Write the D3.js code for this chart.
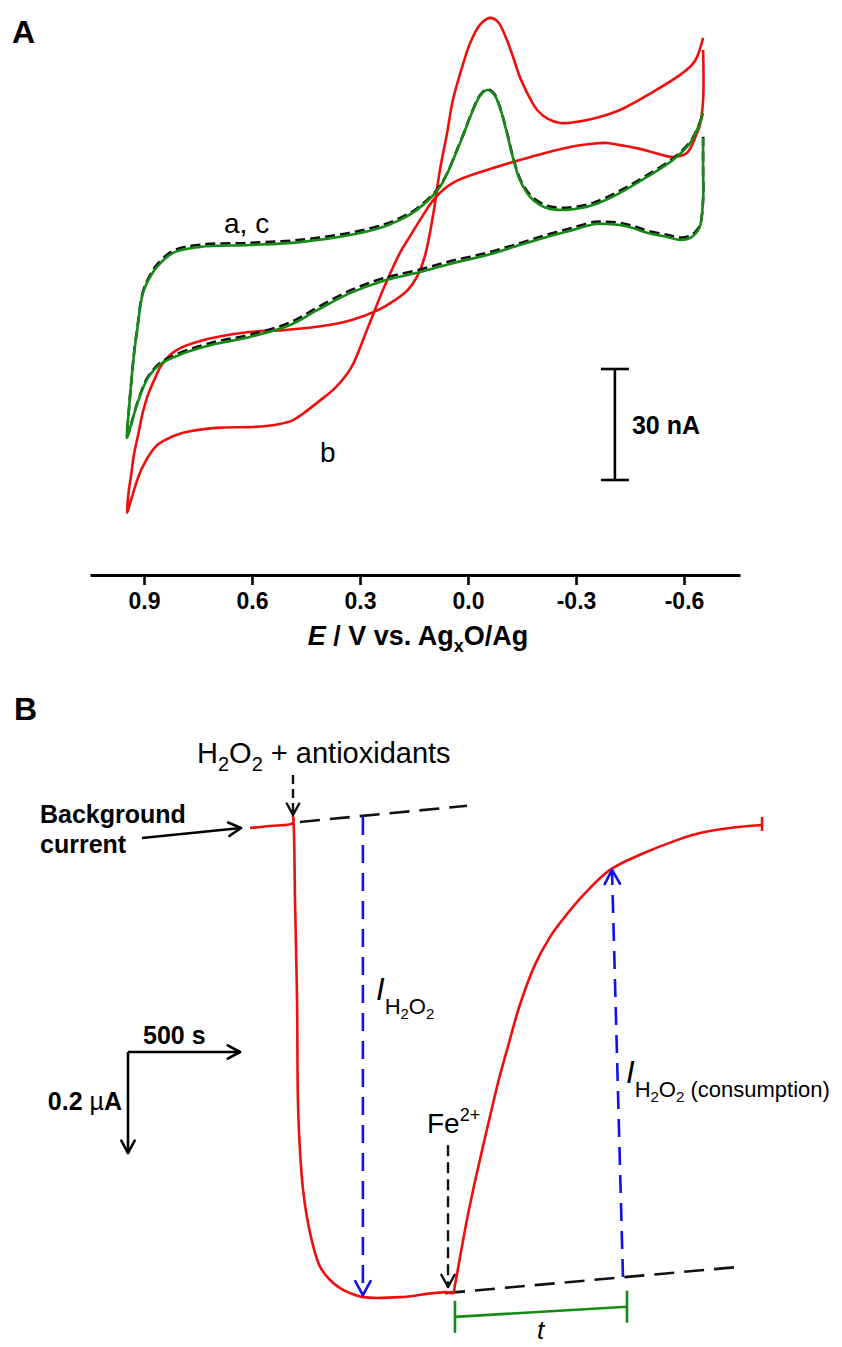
<!DOCTYPE html>
<html>
<head>
<meta charset="utf-8">
<script src="https://cdn.jsdelivr.net/npm/d3@7"></script>
<style>
  body { margin: 0; background: #fff; }
  svg { display: block; font-family: "Liberation Sans", Arial, sans-serif; }
</style>
</head>
<body>
<svg id="fig" width="842" height="1347"></svg>
<script>
////////////////////////////////////////////////////////////////////////
// Panel A data: cyclic voltammograms, E in V, I in nA

let eTicks = [0.9, 0.6, 0.3, 0.0, -0.3, -0.6];

// curve a (green), lower branch right->left then upper branch left->right
let cvA = [
  [-0.653,92.4],[-0.653,83.8],[-0.653,75.7],[-0.644,68.4],[-0.631,66.5],[-0.617,65.4],[-0.589,64.9],
  [-0.553,65.7],[-0.497,66.8],[-0.458,68.1],[-0.422,68.9],[-0.386,69.2],[-0.353,69.2],[-0.292,67.6],
  [-0.219,65.7],[-0.144,63.5],[-0.053,60.8],[0.042,58.6],[0.133,56.2],[0.236,53.8],[0.328,50.5],
  [0.419,45.9],[0.494,41.9],[0.608,38.6],[0.700,36.8],[0.794,34.1],[0.853,31.4],[0.889,27.6],
  [0.917,21.1],[0.936,14.9],[0.947,11.4],
  [0.942,18.9],[0.936,25.7],[0.928,33.8],[0.919,40.5],[0.903,50.5],[0.883,54.9],[0.864,57.6],
  [0.819,61.4],[0.744,63.0],[0.606,63.5],[0.467,64.3],[0.328,66.2],[0.236,68.4],[0.189,70.3],
  [0.142,73.0],[0.078,79.2],[0.022,91.1],[-0.014,100.0],[-0.033,103.8],[-0.053,105.4],[-0.072,104.3],
  [-0.089,100.5],[-0.108,93.8],[-0.125,87.0],[-0.144,81.1],[-0.164,77.6],[-0.181,75.7],[-0.219,73.5],
  [-0.275,73.0],[-0.347,74.3],[-0.422,77.6],[-0.497,81.9],[-0.569,86.5],[-0.617,91.1],[-0.644,96.5],
  [-0.653,99.2]
];

// curve c (black dashed), almost on top of a
let cvC = [
  [-0.653,92.8],[-0.653,84.0],[-0.653,75.9],[-0.644,68.8],[-0.631,67.0],[-0.617,66.0],[-0.589,65.5],
  [-0.553,66.3],[-0.497,67.4],[-0.458,68.7],[-0.422,69.5],[-0.386,69.8],[-0.353,69.8],[-0.292,68.2],
  [-0.219,66.3],[-0.144,64.0],[-0.053,61.4],[0.042,59.3],[0.133,56.9],[0.236,54.5],[0.328,51.2],
  [0.419,46.6],[0.494,42.6],[0.608,39.2],[0.700,37.4],[0.794,34.6],[0.853,31.8],[0.889,27.9],
  [0.917,21.3],[0.936,15.0],[0.947,11.5],
  [0.942,19.0],[0.936,25.9],[0.928,34.0],[0.919,40.8],[0.903,50.9],[0.883,55.4],[0.864,58.2],
  [0.819,62.0],[0.744,63.6],[0.606,64.1],[0.467,64.9],[0.328,66.8],[0.236,69.0],[0.189,70.8],
  [0.142,73.4],[0.078,79.5],[0.022,91.3],[-0.014,100.2],[-0.033,104.0],[-0.053,105.6],[-0.072,104.5],
  [-0.089,100.7],[-0.108,94.0],[-0.125,87.3],[-0.144,81.5],[-0.164,78.1],[-0.181,76.3],[-0.219,74.1],
  [-0.275,73.6],[-0.347,74.9],[-0.422,78.2],[-0.497,82.4],[-0.569,86.9],[-0.617,91.4],[-0.644,96.7],
  [-0.653,99.4]
];

// curve b (red)
let cvB = [
  [-0.653,116.2],[-0.653,102.7],[-0.644,95.9],[-0.636,93.8],[-0.622,90.5],[-0.608,88.4],[-0.569,87.3],
  [-0.519,88.4],[-0.469,89.7],[-0.422,90.5],[-0.386,91.1],[-0.339,90.8],[-0.283,90.0],[-0.214,88.4],
  [-0.144,86.5],[-0.053,83.8],[0.042,80.3],[0.092,76.2],[0.133,70.3],[0.161,65.9],[0.189,61.4],
  [0.236,51.4],[0.281,40.5],[0.325,30.3],[0.369,24.9],[0.419,20.9],[0.456,18.1],[0.486,16.2],
  [0.520,15.2],[0.560,14.6],[0.606,14.3],[0.700,14.1],[0.794,12.7],[0.842,10.8],[0.869,8.9],[0.908,2.7],
  [0.936,-5.4],[0.947,-8.9],
  [0.942,-2.7],[0.936,1.1],[0.928,6.8],[0.917,11.9],[0.903,18.4],[0.889,23.0],[0.869,27.6],
  [0.853,30.8],[0.828,33.8],[0.794,35.9],[0.744,37.6],[0.700,38.6],[0.608,40.0],[0.514,40.5],
  [0.419,41.4],[0.325,43.2],[0.250,45.9],[0.203,48.6],[0.167,51.4],[0.142,54.9],[0.119,60.8],
  [0.097,71.6],[0.078,83.8],[0.058,93.8],[0.042,102.7],[0.017,111.4],[-0.006,118.1],[-0.033,123.0],
  [-0.061,124.9],[-0.083,123.8],[-0.108,118.9],[-0.128,113.5],[-0.144,108.9],[-0.167,104.1],
  [-0.192,100.0],[-0.222,97.6],[-0.256,96.5],[-0.331,97.3],[-0.422,100.0],[-0.514,104.9],
  [-0.589,109.5],[-0.622,112.2],[-0.636,114.3],[-0.653,119.5]
];

////////////////////////////////////////////////////////////////////////
// Panel B data: amperometric trace, t in s, I in uA (reduction plotted down)

let ampT = [0,89,192,192,196,201,210,214,223,237,254,281,313,357,402,446,504,670,817,879,906,
            915,938,964,996,1031,1071,1107,1147,1205,1272,1339,1384,1496,1607,1741,1906,2009,2143,2286];
let ampI = [0,-0.004,-0.010,-0.024,0.004,0.143,0.341,0.539,0.638,0.717,0.770,0.826,0.869,0.895,
            0.911,0.921,0.929,0.929,0.921,0.919,0.921,0.905,0.849,0.786,0.717,0.648,0.572,0.505,
            0.440,0.350,0.271,0.216,0.188,0.129,0.083,0.053,0.024,0.010,0.000,-0.006];

let baseTop = [[223,-0.012],[969,-0.044]];     // background extrapolation
let baseBottom = [[871,0.921],[2188,0.869]];   // plateau extrapolation
let injH2O2 = {t: 192, i0: -0.105, i1: -0.026};
let injFe = {t: 884, i0: 0.628, i1: 0.909};
let arrowIH2O2 = [[504,-0.022],[504,0.925]];
let arrowICons = [[1665,0.889],[1616,0.083]];
let bracketT = [[915,0.968],[1683,0.948]];

////////////////////////////////////////////////////////////////////////

let svg = d3.select("#fig");
let RED = "#f20d0d", GREEN = "#168a16", BLUE = "#1010f0";

// little helper for open "V" arrow heads
function arrowHead(g, x1, y1, x2, y2, color, size, w) {
  let a = Math.atan2(y2 - y1, x2 - x1);
  [Math.PI - 0.5, Math.PI + 0.5].forEach(function(da) {
    g.append("line")
      .attr("x1", x2).attr("y1", y2)
      .attr("x2", x2 + size * Math.cos(a + da))
      .attr("y2", y2 + size * Math.sin(a + da))
      .attr("stroke", color).attr("stroke-width", w).attr("stroke-linecap", "round");
  });
}

function arrow(g, x1, y1, x2, y2, color, dash, size, w) {
  g.append("line")
    .attr("x1", x1).attr("y1", y1).attr("x2", x2).attr("y2", y2)
    .attr("stroke", color).attr("stroke-width", w)
    .attr("stroke-dasharray", dash);
  arrowHead(g, x1, y1, x2, y2, color, size, w);
}

///////////////////////////// Panel A ///////////////////////////////////

let xA = d3.scaleLinear().domain([1.05, -0.7555]).range([90, 740]);
let yA = d3.scaleLinear().domain([0, 30]).range([480, 369]);

let gA = svg.append("g");

gA.append("text").attr("x", 12).attr("y", 43)
  .attr("font-size", 32).attr("font-weight", "bold").text("A");

let cvLine = d3.line()
  .x(function(d) { return xA(d[0]); })
  .y(function(d) { return yA(d[1]); })
  .curve(d3.curveCatmullRom.alpha(0.5));

gA.append("path").attr("d", cvLine(cvB))
  .attr("fill", "none").attr("stroke", RED).attr("stroke-width", 2.6);
gA.append("path").attr("d", cvLine(cvC))
  .attr("fill", "none").attr("stroke", "#111").attr("stroke-width", 2.6)
  .attr("stroke-dasharray", "10,5");
gA.append("path").attr("d", cvLine(cvA))
  .attr("fill", "none").attr("stroke", GREEN).attr("stroke-width", 2.6);

// curve labels
gA.append("text").attr("x", 224).attr("y", 233).attr("font-size", 28).text("a, c");
gA.append("text").attr("x", 320).attr("y", 462).attr("font-size", 28).text("b");

// 30 nA scale bar
let sbE = -0.408;
let sbx = xA(sbE);
gA.append("line").attr("x1", sbx).attr("x2", sbx).attr("y1", yA(0)).attr("y2", yA(30))
  .attr("stroke", "#000").attr("stroke-width", 2.6);
[0, 30].forEach(function(v) {
  gA.append("line").attr("x1", sbx - 14).attr("x2", sbx + 14).attr("y1", yA(v)).attr("y2", yA(v))
    .attr("stroke", "#000").attr("stroke-width", 2.6);
});
gA.append("text").attr("x", sbx + 17).attr("y", (yA(0) + yA(30)) / 2 + 9)
  .attr("font-size", 25).attr("font-weight", "bold").text("30 nA");

// x axis
let xAxis = d3.axisBottom(xA).tickValues(eTicks).tickSize(10).tickSizeOuter(0)
  .tickPadding(8).tickFormat(function(d) { return d.toFixed(1); });
let axG = gA.append("g").attr("transform", "translate(0,575)").call(xAxis);
axG.select(".domain").attr("stroke", "#000").attr("stroke-width", 3);
axG.selectAll(".tick line").attr("stroke", "#000").attr("stroke-width", 2.6);
axG.selectAll(".tick text").attr("font-size", 23).attr("font-weight", "bold")
  .attr("fill", "#000").attr("font-family", "Liberation Sans, Arial, sans-serif");

let ttl = gA.append("text").attr("x", 418).attr("y", 645).attr("text-anchor", "middle")
  .attr("font-size", 27).attr("font-weight", "bold");
ttl.append("tspan").attr("font-style", "italic").text("E");
ttl.append("tspan").text(" / V vs. Ag");
ttl.append("tspan").attr("font-size", 18).attr("dy", 7).text("x");
ttl.append("tspan").attr("dy", -7).text("O/Ag");

///////////////////////////// Panel B ///////////////////////////////////

let xB = d3.scaleLinear().domain([0, 500]).range([250, 362]);
let yB = d3.scaleLinear().domain([0, 0.2]).range([828, 929]);

let gB = svg.append("g");

gB.append("text").attr("x", 14).attr("y", 720)
  .attr("font-size", 32).attr("font-weight", "bold").text("B");

// baselines
let segLine = d3.line()
  .x(function(d) { return xB(d[0]); })
  .y(function(d) { return yB(d[1]); });
[baseTop, baseBottom].forEach(function(b) {
  gB.append("path").attr("d", segLine(b)).attr("fill", "none")
    .attr("stroke", "#111").attr("stroke-width", 2.6).attr("stroke-dasharray", "20,10");
});

// amperometric trace
let ampData = ampT.map(function(t, k) { return [t, ampI[k]]; });
let ampLine = d3.line()
  .x(function(d) { return xB(d[0]); })
  .y(function(d) { return yB(d[1]); })
  .curve(d3.curveCatmullRom.alpha(0.5));
gB.append("path").attr("d", ampLine(ampData))
  .attr("fill", "none").attr("stroke", RED).attr("stroke-width", 2.6);
let last = ampData[ampData.length - 1];
gB.append("line").attr("x1", xB(last[0])).attr("x2", xB(last[0]))
  .attr("y1", yB(last[1]) - 8).attr("y2", yB(last[1]) + 6)
  .attr("stroke", RED).attr("stroke-width", 2.6);

// blue current arrows
arrow(gB, xB(arrowIH2O2[0][0]), yB(arrowIH2O2[0][1]), xB(arrowIH2O2[1][0]), yB(arrowIH2O2[1][1]),
      BLUE, "18,10", 16, 2.6);
arrow(gB, xB(arrowICons[0][0]), yB(arrowICons[0][1]), xB(arrowICons[1][0]), yB(arrowICons[1][1]),
      BLUE, "18,10", 16, 2.6);

// injection arrows
arrow(gB, xB(injH2O2.t), yB(injH2O2.i0), xB(injH2O2.t), yB(injH2O2.i1), "#111", "9,5", 13, 2.4);
arrow(gB, xB(injFe.t), yB(injFe.i0), xB(injFe.t), yB(injFe.i1), "#111", "11,6", 14, 2.4);

// t bracket
let bx0 = xB(bracketT[0][0]), by0 = yB(bracketT[0][1]);
let bx1 = xB(bracketT[1][0]), by1 = yB(bracketT[1][1]);
gB.append("line").attr("x1", bx0).attr("y1", by0).attr("x2", bx1).attr("y2", by1)
  .attr("stroke", GREEN).attr("stroke-width", 2.6);
gB.append("line").attr("x1", bx0).attr("x2", bx0).attr("y1", by0 - 16).attr("y2", by0 + 16)
  .attr("stroke", GREEN).attr("stroke-width", 2.6);
gB.append("line").attr("x1", bx1).attr("x2", bx1).attr("y1", by1 - 16).attr("y2", by1 + 16)
  .attr("stroke", GREEN).attr("stroke-width", 2.6);
gB.append("text").attr("x", (bx0 + bx1) / 2 - 4).attr("y", 1339)
  .attr("font-size", 26).attr("font-style", "italic").text("t");

// texts
let h2 = gB.append("text").attr("x", 197).attr("y", 763).attr("font-size", 29);
h2.append("tspan").text("H");
h2.append("tspan").attr("font-size", 20).attr("dy", 8).text("2");
h2.append("tspan").attr("dy", -8).text("O");
h2.append("tspan").attr("font-size", 20).attr("dy", 8).text("2");
h2.append("tspan").attr("dy", -8).text(" + antioxidants");

let fe = gB.append("text").attr("x", 427).attr("y", 1133).attr("font-size", 28);
fe.append("tspan").text("Fe");
fe.append("tspan").attr("font-size", 18).attr("dy", -12).text("2+");

function currentLabel(x, y, extra) {
  let t = gB.append("text").attr("x", x).attr("y", y).attr("font-size", 31);
  t.append("tspan").attr("font-style", "italic").text("I");
  t.append("tspan").attr("font-size", 22).attr("dy", 14).text("H");
  t.append("tspan").attr("font-size", 15).attr("dy", 5).text("2");
  t.append("tspan").attr("font-size", 22).attr("dy", -5).text("O");
  t.append("tspan").attr("font-size", 15).attr("dy", 5).text("2");
  if (extra) t.append("tspan").attr("font-size", 22).attr("dy", -5).text(" " + extra);
}
currentLabel(376, 1000, null);
currentLabel(626, 1083, "(consumption)");

let bg = gB.append("text").attr("font-size", 25).attr("font-weight", "bold");
bg.append("tspan").attr("x", 40).attr("y", 823).text("Background");
bg.append("tspan").attr("x", 40).attr("y", 853).text("current");
arrow(gB, 142, 838, 241, 828, "#000", null, 14, 2.6);

// 500 s / 0.2 uA scale arrows
let ox = 128, oy = 1052;
let lenT = xB(500) - xB(0), lenI = yB(0.2) - yB(0);
arrow(gB, ox, oy, ox + lenT, oy, "#000", null, 14, 2.6);
arrow(gB, ox, oy, ox, oy + lenI, "#000", null, 14, 2.6);
gB.append("text").attr("x", 143).attr("y", 1044)
  .attr("font-size", 25).attr("font-weight", "bold").text("500 s");
let ua = gB.append("text").attr("x", 122).attr("y", 1110).attr("text-anchor", "end")
  .attr("font-size", 25).attr("font-weight", "bold");
ua.append("tspan").text("0.2 ");
ua.append("tspan").attr("font-weight", "normal").text("\u00b5");
ua.append("tspan").text("A");
</script>
</body>
</html>
